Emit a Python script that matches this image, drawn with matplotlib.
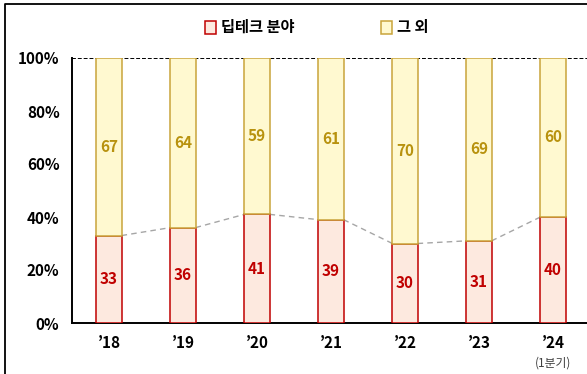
import numpy as np
import matplotlib.pyplot as plt
from matplotlib.patches import Rectangle
from matplotlib.lines import Line2D

plt.rcParams['font.family'] = ['Noto Sans CJK KR', 'DejaVu Sans']

# Share of deep-tech vs. others (%)
years = ["’18", "’19", "’20", "’21", "’22", "’23", "’24"]
deeptech = [33, 36, 41, 39, 30, 31, 40]
others = [67, 64, 59, 61, 70, 69, 60]

red_edge = '#C00000'
red_fill = '#FDE9DF'
yel_edge = '#C9A43A'
yel_fill = '#FFF9D0'
red_text = '#C00000'
yel_text = '#B8920E'

fig = plt.figure(figsize=(5.87, 3.74), dpi=100)
ax = fig.add_axes([72 / 587, 51 / 374, 518 / 587, 265 / 374])

x = np.arange(len(years))
w = 0.34
d = np.array(deeptech) / 100
o = np.array(others) / 100

ax.bar(x, d, width=w, color=red_fill, edgecolor=red_edge, linewidth=1.1, zorder=3)
ax.bar(x, o, width=w, bottom=d, color=yel_fill, edgecolor=yel_edge, linewidth=1.1, zorder=3)

# dashed connector between the tops of the deep-tech segments
for i in range(len(x) - 1):
    ax.plot([x[i] + w / 2, x[i + 1] - w / 2], [d[i], d[i + 1]],
            color='#A6A6A6', linestyle=(0, (4, 3)), linewidth=1.0, zorder=2)

for i in range(len(x)):
    ax.text(x[i], d[i] / 2, str(deeptech[i]), ha='center', va='center',
            fontsize=11, fontweight='bold', color=red_text, zorder=4)
    ax.text(x[i], d[i] + o[i] / 2, str(others[i]), ha='center', va='center',
            fontsize=11, fontweight='bold', color=yel_text, zorder=4)

ax.axhline(1.0, color='black', linestyle=(0, (2, 1)), linewidth=1.4, zorder=1)

ax.set_xlim(-0.5, 6.5)
ax.set_ylim(0, 1.0)
ax.set_yticks(np.arange(0, 1.01, 0.2))
ax.set_yticklabels([f"{int(v * 100)}%" for v in np.arange(0, 1.01, 0.2)],
                   fontsize=11, fontweight='bold')
ax.set_xticks(x)
ax.set_xticklabels(years, fontsize=11, fontweight='bold')
ax.tick_params(axis='both', length=0)
ax.tick_params(axis='y', pad=9)
ax.tick_params(axis='x', pad=9)
for s in ['top', 'right']:
    ax.spines[s].set_visible(False)
ax.spines['left'].set_linewidth(1.4)
ax.spines['bottom'].set_linewidth(1.4)
ax.text(x[-1], -0.15, "(1분기)", ha='center', va='center', fontsize=8.5,
        color='#404040', transform=ax.transData, clip_on=False)

# legend
fig.patches.append(Rectangle((205 / 587, 1 - 34 / 374), 11 / 587, 13 / 374,
                             transform=fig.transFigure, facecolor=red_fill,
                             edgecolor=red_edge, linewidth=1.1))
fig.text(221 / 587, 1 - 27 / 374, "딥테크 분야", fontsize=11, fontweight='bold',
         va='center', ha='left')
fig.patches.append(Rectangle((381 / 587, 1 - 34 / 374), 11 / 587, 13 / 374,
                             transform=fig.transFigure, facecolor=yel_fill,
                             edgecolor=yel_edge, linewidth=1.1))
fig.text(397 / 587, 1 - 27 / 374, "그 외", fontsize=11, fontweight='bold',
         va='center', ha='left')

# outer frame
fig.lines.append(Line2D([5 / 587, 5 / 587, 1], [0, 1 - 4 / 374, 1 - 4 / 374],
                        transform=fig.transFigure, color='black', linewidth=1.3))

fig.savefig('out.png', dpi=100)
